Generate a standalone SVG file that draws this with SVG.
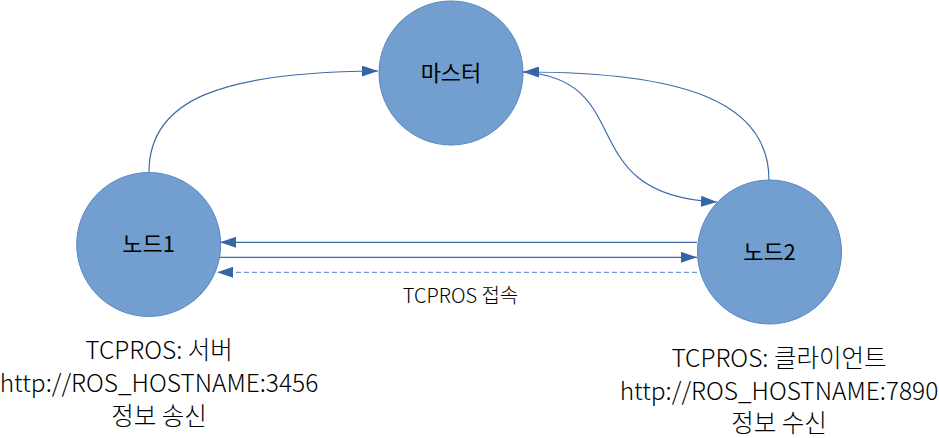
<svg xmlns="http://www.w3.org/2000/svg" width="939" height="438" viewBox="0 0 939 438">
<style>
.node{fill:#729fcf;stroke:#5a86c2;stroke-width:1}
.nt{font-family:"Noto Sans CJK KR","Noto Sans",sans-serif;font-size:22px;fill:#000;text-anchor:middle}
.lbl{font-family:"Noto Sans CJK KR","Noto Sans",sans-serif;font-size:24.5px;font-weight:300;fill:#000;text-anchor:middle}
.small{font-family:"Noto Sans CJK KR","Noto Sans",sans-serif;font-size:20px;font-weight:300;fill:#000;text-anchor:middle}
.c{fill:none;stroke:#3a6aa8;stroke-width:1.2}
.d{fill:none;stroke:#6f98cf;stroke-width:1.2;stroke-dasharray:5 3}
</style>
<defs>
<marker id="ah" viewBox="0 0 16 11" refX="16" refY="5.5" markerWidth="16" markerHeight="11" markerUnits="userSpaceOnUse" orient="auto">
<path d="M0,0 L16,5.5 L0,11 Z" fill="#3465a4"/>
</marker>
</defs>
<g id="connectors">
<path class="c" d="M149,172 C149,100 220,72 378,71" marker-end="url(#ah)"/>
<path class="c" d="M769,180 C769,100 680,72 523,72" marker-end="url(#ah)"/>
<path class="c" d="M523,72 C640,80 570,195 717,202" marker-end="url(#ah)"/>
<path class="c" d="M697,242.3 L220,242.3" marker-end="url(#ah)"/>
<path class="c" d="M220,257.3 L697,257.3" marker-end="url(#ah)"/>
<path class="d" d="M697,272.3 L217,272.3" marker-end="url(#ah)"/>
<text class="small" x="460.5" y="303">TCPROS 접속</text>
</g>
<g id="master">
<circle class="node" cx="451" cy="73" r="72"/>
<text class="nt" x="451" y="81">마스터</text>
</g>
<g id="node1">
<circle class="node" cx="148.7" cy="244.5" r="72"/>
<text class="nt" x="148.7" y="252">노드1</text>
<text class="lbl" x="159" y="359">TCPROS: 서버</text>
<text class="lbl" x="159" y="392">http://ROS_HOSTNAME:3456</text>
<text class="lbl" x="159" y="425">정보 송신</text>
</g>
<g id="node2">
<circle class="node" cx="769.5" cy="252" r="72"/>
<text class="nt" x="769.5" y="260">노드2</text>
<text class="lbl" x="779" y="367">TCPROS: 클라이언트</text>
<text class="lbl" x="779" y="400">http://ROS_HOSTNAME:7890</text>
<text class="lbl" x="779" y="432">정보 수신</text>
</g>
</svg>
